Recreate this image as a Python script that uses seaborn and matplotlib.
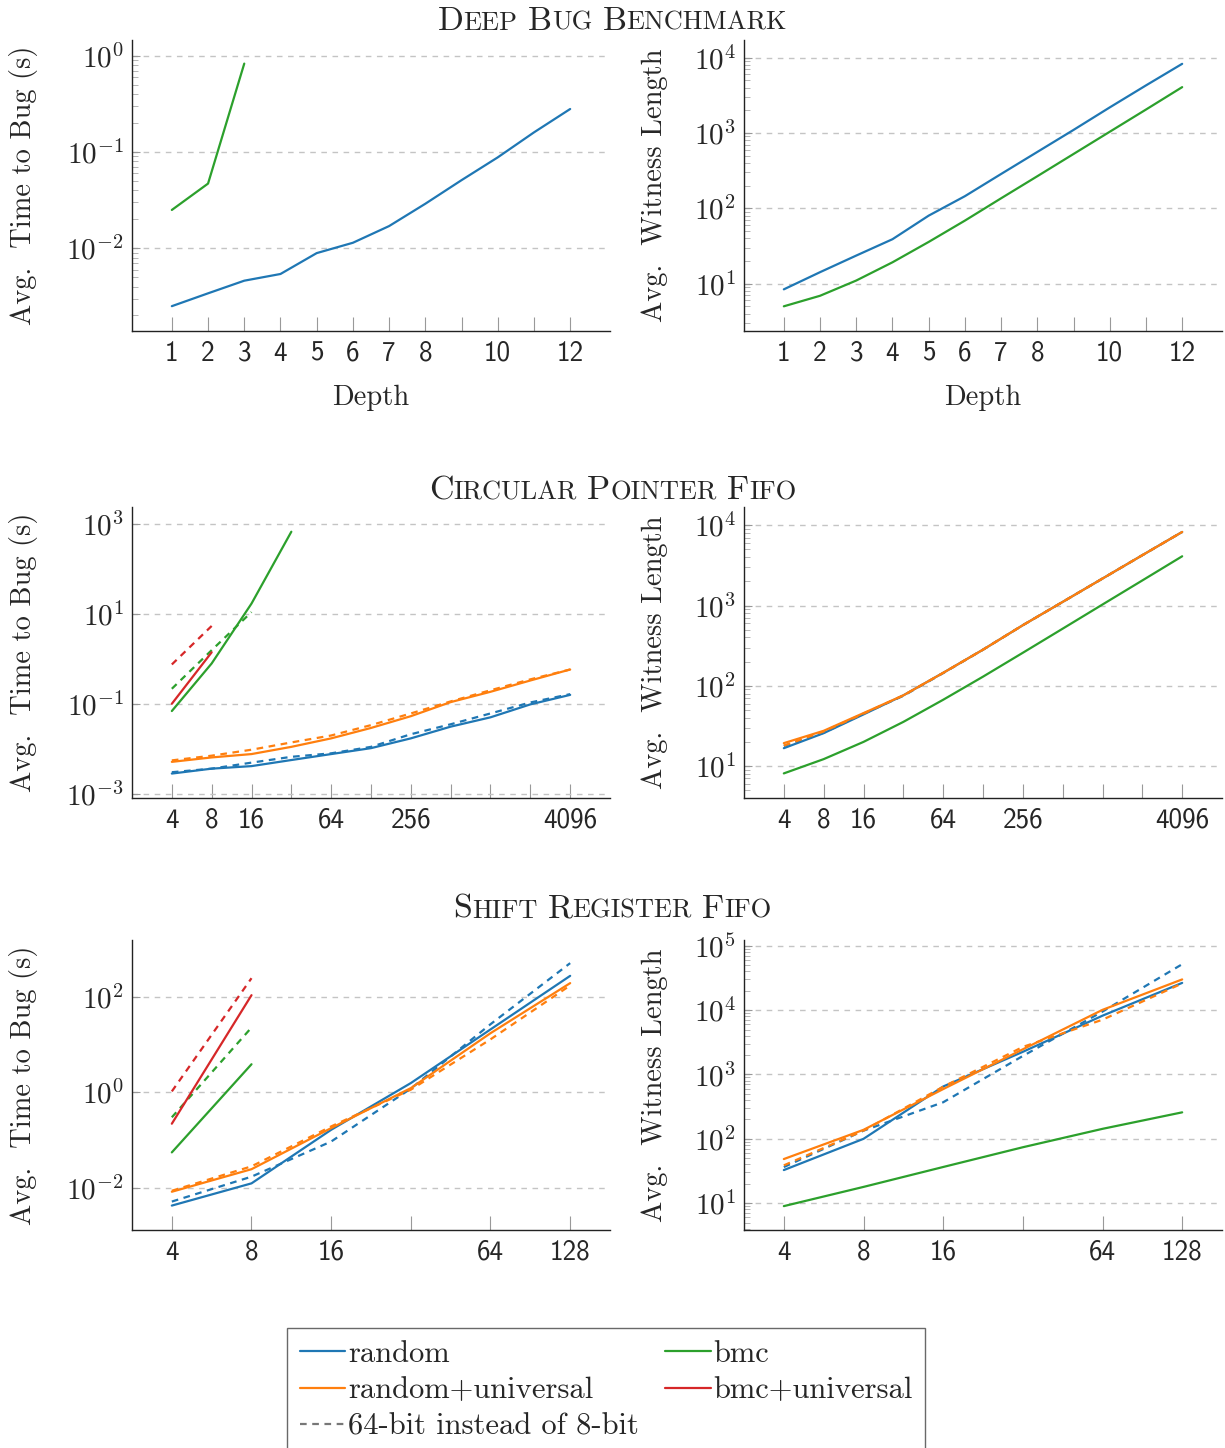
import numpy as np
import pandas as pd
import seaborn as sns
import matplotlib.pyplot as plt
from matplotlib.lines import Line2D
from matplotlib.ticker import NullLocator, LogLocator

# ---- data ----
depth = [1, 2, 3, 4, 5, 6, 7, 8, 9, 10, 11, 12]
db_time_random = [0.0025, 0.0034, 0.0046, 0.0054, 0.0089, 0.0114, 0.017, 0.029, 0.051, 0.088, 0.16, 0.28]
db_time_bmc = [0.025, 0.047, 0.83]
db_wit_random = [8.4, 14.2, 23.6, 38.9, 80, 145, 286, 561, 1100, 2190, 4290, 8300]
db_wit_bmc = [5.0, 6.9, 11, 19.2, 35.8, 68.7, 136, 267, 527, 1040, 2050, 4070]

cp_size = [4, 8, 16, 32, 64, 128, 256, 512, 1024, 2048, 4096]
cp_time_random = [0.0028, 0.0036, 0.0041, 0.0056, 0.0076, 0.0103, 0.017, 0.031, 0.050, 0.097, 0.158]
cp_time_random_64 = [0.0030, 0.0036, 0.0049, 0.0066, 0.0079, 0.011, 0.021, 0.035, 0.061, 0.107, 0.164]
cp_time_runiv = [0.0051, 0.0064, 0.0076, 0.011, 0.017, 0.029, 0.053, 0.109, 0.185, 0.33, 0.58]
cp_time_runiv_64 = [0.0055, 0.0070, 0.0095, 0.0138, 0.0197, 0.0335, 0.061, 0.113, 0.2, 0.35, 0.58]
cp_time_bmc = [0.069, 0.79, 17, 676]
cp_time_bmc_64 = [0.216, 1.56, 11]
cp_time_buniv = [0.1, 1.4]
cp_time_buniv_64 = [0.75, 5.4]
cp_wit_random = [16.7, 25.7, 44, 76, 145, 282, 569, 1110, 2170, 4240, 8260]
cp_wit_random_64 = [17.8, 26, 45, 75, 144, 282, 569, 1110, 2170, 4240, 8260]
cp_wit_runiv = [19.3, 27.5, 45.7, 76, 145, 282, 569, 1110, 2170, 4240, 8260]
cp_wit_runiv_64 = [18, 27, 45, 76, 145, 282, 569, 1110, 2170, 4240, 8260]
cp_wit_bmc = [8.1, 12.2, 20, 35.5, 67, 130, 258, 515, 1030, 2055, 4110]

sr_size = [4, 8, 16, 32, 64, 128]
sr_time_random = [0.0042, 0.0123, 0.164, 1.57, 21, 280]
sr_time_random_64 = [0.0051, 0.017, 0.093, 1.2, 27, 518]
sr_time_runiv = [0.0082, 0.0244, 0.178, 1.23, 17.5, 197]
sr_time_runiv_64 = [0.0086, 0.028, 0.193, 1.14, 13, 176]
sr_time_bmc = [0.055, 3.9]
sr_time_bmc_64 = [0.30, 23]
sr_time_buniv = [0.22, 110]
sr_time_buniv_64 = [1.05, 250]
sr_wit_random = [32.7, 100, 650, 2250, 8200, 26500]
sr_wit_random_64 = [36.4, 134, 370, 1940, 9500, 51700]
sr_wit_runiv = [48.5, 138, 593, 2460, 10100, 30000]
sr_wit_runiv_64 = [38.7, 134, 645, 2680, 7100, 26000]
sr_wit_bmc = [9.0, 17.9, 36.5, 74, 143, 258]

methods = ["random", "random+universal", "bmc", "bmc+universal"]
colors = ["#1f77b4", "#ff7f0e", "#2ca02c", "#d62728"]
palette = dict(zip(methods, colors))
dashes = {"8-bit": "", "64-bit": (3, 2.5)}

sns.set_style("ticks")
plt.rcParams["font.family"] = ["cmr10", "DejaVu Serif"]
plt.rcParams["mathtext.fontset"] = "cm"
plt.rcParams["axes.formatter.use_mathtext"] = True
plt.rcParams["axes.edgecolor"] = "#222222"
plt.rcParams["axes.linewidth"] = 1.0


def frame(x, series):
    rows = []
    for method, bits, vals in series:
        for xi, yi in zip(x, vals):
            rows.append((xi, yi, method, bits))
    return pd.DataFrame(rows, columns=["x", "y", "method", "bits"])


def draw(ax, df):
    sns.lineplot(data=df, x="x", y="y", hue="method", style="bits",
                 palette=palette, dashes=dashes, estimator=None,
                 legend=False, lw=1.6, ax=ax)
    ax.set_xlabel("")
    ax.set_ylabel("")


def style_y(ax, exps, ylim, minor, label, lx):
    ax.set_yscale("log")
    ax.set_ylim(*ylim)
    ax.set_yticks([10.0 ** e for e in exps], labels=[f"$10^{{{e}}}$" for e in exps], fontsize=21)
    if minor:
        ax.yaxis.set_minor_locator(LogLocator(base=10, subs=np.arange(2, 10)))
    else:
        ax.yaxis.set_minor_locator(NullLocator())
    ax.yaxis.set_minor_formatter(plt.NullFormatter())
    ax.grid(axis="y", which="major", color="#c4c4c4", ls=(0, (4, 4)), lw=1)
    ax.tick_params(axis="y", which="major", direction="in", length=6, color="#999999", pad=6)
    ax.tick_params(axis="y", which="minor", direction="in", length=4, color="#aaaaaa")
    ax.set_ylabel(label, fontsize=20.5)
    ax.yaxis.set_label_coords(lx, 0.5)
    sns.despine(ax=ax)


def style_x(ax, ticks, labels, xlim, log2=False, xlabel=None):
    if log2:
        ax.set_xscale("log", base=2)
        ax.xaxis.set_minor_locator(NullLocator())
    ax.set_xlim(*xlim)
    ax.set_xticks(ticks, labels=labels, fontsize=19.5, fontfamily="cmss10")
    ax.tick_params(axis="x", direction="in", length=10, color="#999999", pad=7)
    if xlabel:
        ax.set_xlabel(xlabel, fontsize=20.5)
        ax.xaxis.set_label_coords(0.5, -0.185)


fig = plt.figure(figsize=(12.25, 14.48), dpi=100)
W, H = 1225, 1448


def add_axes(left, top, bottom):
    return fig.add_axes([left / W, 1 - bottom / H, 478 / W, (bottom - top) / H])


rows_px = [(40, 331), (507, 798), (940, 1230)]
lefts = [132, 744]
axes = [[add_axes(l, t, b) for l in lefts] for t, b in rows_px]

# Deep bug benchmark
draw(axes[0][0], frame(depth, [("random", "8-bit", db_time_random), ("bmc", "8-bit", db_time_bmc)]))
draw(axes[0][1], frame(depth, [("random", "8-bit", db_wit_random), ("bmc", "8-bit", db_wit_bmc)]))

# Circular pointer fifo
draw(axes[1][0], frame(cp_size, [
    ("random", "8-bit", cp_time_random), ("random+universal", "8-bit", cp_time_runiv),
    ("bmc", "8-bit", cp_time_bmc), ("bmc+universal", "8-bit", cp_time_buniv),
    ("random", "64-bit", cp_time_random_64), ("random+universal", "64-bit", cp_time_runiv_64),
    ("bmc", "64-bit", cp_time_bmc_64), ("bmc+universal", "64-bit", cp_time_buniv_64)]))
draw(axes[1][1], frame(cp_size, [
    ("random", "8-bit", cp_wit_random), ("random+universal", "8-bit", cp_wit_runiv),
    ("bmc", "8-bit", cp_wit_bmc),
    ("random", "64-bit", cp_wit_random_64), ("random+universal", "64-bit", cp_wit_runiv_64)]))

# Shift register fifo
draw(axes[2][0], frame(sr_size, [
    ("random", "8-bit", sr_time_random), ("random+universal", "8-bit", sr_time_runiv),
    ("bmc", "8-bit", sr_time_bmc), ("bmc+universal", "8-bit", sr_time_buniv),
    ("random", "64-bit", sr_time_random_64), ("random+universal", "64-bit", sr_time_runiv_64),
    ("bmc", "64-bit", sr_time_bmc_64), ("bmc+universal", "64-bit", sr_time_buniv_64)]))
draw(axes[2][1], frame(sr_size, [
    ("random", "8-bit", sr_wit_random), ("random+universal", "8-bit", sr_wit_runiv),
    ("bmc", "8-bit", sr_wit_bmc),
    ("random", "64-bit", sr_wit_random_64), ("random+universal", "64-bit", sr_wit_runiv_64)]))

time_lbl = "Avg.  Time to Bug (s)"
wit_lbl = "Avg.  Witness Length"
lx_left, lx_right = (38 - 132) / 478, (668 - 744) / 478

style_y(axes[0][0], [-2, -1, 0], (0.00138, 1.46), True, time_lbl, lx_left)
style_y(axes[0][1], [1, 2, 3, 4], (2.35, 17200), True, wit_lbl, lx_right)
style_y(axes[1][0], [-3, -1, 1, 3], (0.0008, 2400), False, time_lbl, lx_left)
style_y(axes[1][1], [1, 2, 3, 4], (4.0, 16900), True, wit_lbl, lx_right)
style_y(axes[2][0], [-2, 0, 2], (0.00129, 1585), False, time_lbl, lx_left)
style_y(axes[2][1], [1, 2, 3, 4, 5], (3.83, 123000), True, wit_lbl, lx_right)

db_labels = ["1", "2", "3", "4", "5", "6", "7", "8", "", "10", "", "12"]
cp_labels = ["4", "8", "16", "", "64", "", "256", "", "", "", "4096"]
sr_labels = ["4", "8", "16", "", "64", "128"]
for ax in axes[0]:
    style_x(ax, depth, db_labels, (-0.1, 13.1), xlabel="Depth")
for ax in axes[1]:
    style_x(ax, cp_size, cp_labels, (2, 8192), log2=True)
for ax in axes[2]:
    style_x(ax, sr_size, sr_labels, (2 ** 1.5, 2 ** 7.5), log2=True)


# row titles in small caps
def small_caps(text, y_px, big=24.5, small=19):
    r = fig.canvas.get_renderer()
    parts = []
    for word in text.split():
        parts.append([fig.text(0, 1 - y_px / H, word[0], fontsize=big, va="baseline"),
                      fig.text(0, 1 - y_px / H, word[1:].upper(), fontsize=small, va="baseline")])
    gap = 0.3 * big * 100 / 72
    widths = [[t.get_window_extent(r).width for t in p] for p in parts]
    total = sum(sum(w) for w in widths) + gap * (len(parts) - 1)
    x = W / 2 - total / 2
    for p, w in zip(parts, widths):
        for t, wi in zip(p, w):
            t.set_x(x / W)
            x += wi
        x += gap


small_caps("Deep Bug Benchmark", 30)
small_caps("Circular Pointer Fifo", 499)
small_caps("Shift Register Fifo", 918)

handles = [Line2D([], [], color=c, lw=1.6) for c in colors]
handles.append(Line2D([], [], color="#777777", lw=1.6, dashes=(3, 2.5)))
labels = methods + ["64-bit instead of 8-bit"]
order = [0, 1, 4, 2, 3]
leg = fig.legend([handles[i] for i in order], [labels[i] for i in order],
                 loc="upper center", bbox_to_anchor=(606 / W, 1 - 1328 / H),
                 ncol=2, fontsize=22, frameon=True, fancybox=False,
                 handlelength=1.5, handletextpad=0.08, labelspacing=0.3,
                 columnspacing=0.85, borderpad=0.4, borderaxespad=0)
leg.get_frame().set_edgecolor("#444444")
leg.get_frame().set_linewidth(1.0)

fig.savefig("out.png", dpi=100)
